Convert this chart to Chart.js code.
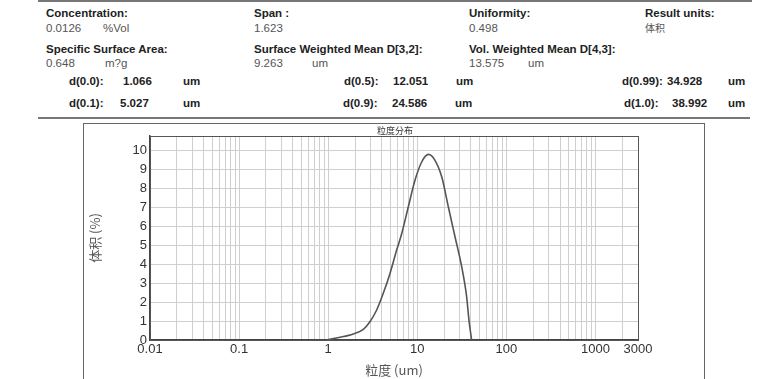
<!DOCTYPE html>
<html><head><meta charset="utf-8">
<script src="https://cdn.jsdelivr.net/npm/chart.js@4/dist/chart.umd.min.js"></script>
<style>
body{margin:0;background:#fff;width:784px;height:379px;overflow:hidden;position:relative;font-family:"Liberation Sans",Arial,sans-serif;}
.t{position:absolute;font-size:11.5px;white-space:nowrap;line-height:12px;}
.b{font-weight:bold;color:#222;}
.v{color:#555;}
.hl{position:absolute;height:0;border-top:2px solid #777;}
#box{position:absolute;left:83px;top:123px;width:622px;height:300px;border:1px solid #666;box-sizing:border-box;}
#c{position:absolute;left:83px;top:123px;}
</style></head><body>
<div class="hl" style="left:38px;top:0px;width:714px"></div>
<div class="t b" style="left:46px;top:7px">Concentration:</div>
<div class="t v" style="left:46px;top:22px">0.0126</div>
<div class="t v" style="left:103px;top:22px">%Vol</div>
<div class="t b" style="left:254px;top:7px">Span :</div>
<div class="t v" style="left:254px;top:22px">1.623</div>
<div class="t b" style="left:469px;top:7px">Uniformity:</div>
<div class="t v" style="left:469px;top:22px">0.498</div>
<div class="t b" style="left:645px;top:7px">Result units:</div>
<div class="t v" style="left:645px;top:22px;font-family:'Noto Sans CJK SC';font-size:10px">体积</div>
<div class="t b" style="left:46px;top:43px">Specific Surface Area:</div>
<div class="t v" style="left:46px;top:57px">0.648</div>
<div class="t v" style="left:105px;top:57px">m?g</div>
<div class="t b" style="left:254px;top:43px">Surface Weighted Mean D[3,2]:</div>
<div class="t v" style="left:254px;top:57px">9.263</div>
<div class="t v" style="left:312px;top:57px">um</div>
<div class="t b" style="left:469px;top:43px">Vol. Weighted Mean D[4,3]:</div>
<div class="t v" style="left:469px;top:57px">13.575</div>
<div class="t v" style="left:528px;top:57px">um</div>
<div class="t b" style="left:69px;top:75px">d(0.0):</div>
<div class="t b" style="left:123px;top:75px">1.066</div>
<div class="t b" style="left:183px;top:75px">um</div>
<div class="t b" style="left:69px;top:97px">d(0.1):</div>
<div class="t b" style="left:120px;top:97px">5.027</div>
<div class="t b" style="left:183px;top:97px">um</div>
<div class="t b" style="left:344px;top:75px">d(0.5):</div>
<div class="t b" style="left:393px;top:75px">12.051</div>
<div class="t b" style="left:456px;top:75px">um</div>
<div class="t b" style="left:343px;top:97px">d(0.9):</div>
<div class="t b" style="left:392px;top:97px">24.586</div>
<div class="t b" style="left:455px;top:97px">um</div>
<div class="t b" style="left:622px;top:75px">d(0.99):</div>
<div class="t b" style="left:667px;top:75px">34.928</div>
<div class="t b" style="left:728px;top:75px">um</div>
<div class="t b" style="left:624px;top:97px">d(1.0):</div>
<div class="t b" style="left:672px;top:97px">38.992</div>
<div class="t b" style="left:728px;top:97px">um</div>
<div class="hl" style="left:38px;top:117px;width:712px"></div>
<div id="box"></div>
<canvas id="c" width="622" height="256"></canvas>
<script>
// particle size (um) and volume (%)
const sizes = [0.96, 1.36, 1.91, 2.48, 2.94, 3.5, 4.15, 4.94, 5.87, 6.69, 7.93, 9.42, 11.2, 13.3, 15.8, 18.8, 22.3, 26.5, 31.5, 35.8, 38.0, 40.7];
const volume = [0, 0.14, 0.32, 0.56, 0.96, 1.58, 2.46, 3.51, 4.74, 5.61, 7.02, 8.42, 9.38, 9.78, 9.47, 8.6, 7.02, 5.44, 3.86, 2.28, 1.05, 0];
const xTickLabels = [0.01, 0.1, 1, 10, 100, 1000, 3000];
const yTickLabels = [0,1,2,3,4,5,6,7,8,9,10];
const chartTitle = '粒度分布';
const xTitle = '粒度 (um)';
const yTitle = '体积 (%)';

const gridVals = [];
for (let e = -2; e <= 3; e++) for (let m = 1; m <= 9; m++) { const v = +(m * Math.pow(10, e)).toPrecision(3); if (v <= 3000) gridVals.push(v); }
if (!gridVals.includes(3000)) gridVals.push(3000);

const pts = sizes.map((s, i) => ({x: s, y: volume[i]}));

const frame = {
  id: 'frame',
  afterDraw(chart) {
    const {ctx, chartArea: a} = chart;
    ctx.save();
    ctx.strokeStyle = '#555'; ctx.lineWidth = 1;
    ctx.strokeRect(a.left + 0.5, a.top + 0.5, a.right - a.left, a.bottom - a.top);
    ctx.fillStyle = '#333';
    ctx.font = '9px "Noto Sans CJK SC"';
    ctx.textAlign = 'center'; ctx.textBaseline = 'middle';
    ctx.fillText(chartTitle, 312, 8);
    ctx.fillStyle = '#555';
    ctx.font = '13px "Noto Sans CJK SC"';
    ctx.fillText(xTitle, 311, 247);
    ctx.translate(12, 115); ctx.rotate(-Math.PI / 2);
    ctx.fillText(yTitle, 0, 0);
    ctx.restore();
  }
};

new Chart(document.getElementById('c'), {
  type: 'scatter',
  data: { datasets: [{ data: pts, showLine: true, borderColor: '#555', borderWidth: 1.6, pointRadius: 0, cubicInterpolationMode: 'monotone', fill: false }] },
  options: {
    responsive: false, animation: false, devicePixelRatio: 1,
    layout: { padding: { left: 0, right: 67, top: 13, bottom: 0 } },
    plugins: { legend: { display: false }, tooltip: { enabled: false } },
    scales: {
      x: {
        type: 'logarithmic', min: 0.01, max: 3000,
        afterBuildTicks: s => { s.ticks = gridVals.map(v => ({value: v})); },
        afterFit: s => { s.height = 39; },
        ticks: { autoSkip: false, maxRotation: 0, padding: 2, color: '#333', font: { family: 'Liberation Sans', size: 13 },
          callback: v => xTickLabels.includes(+(+v).toPrecision(3)) ? String(+(+v).toPrecision(3)) : '' },
        grid: { color: '#cfcfcf', lineWidth: 1, drawTicks: false },
        border: { color: '#444', width: 1.5 }
      },
      y: {
        min: 0, max: 10.75,
        afterBuildTicks: s => { s.ticks = yTickLabels.map(v => ({value: v})); },
        afterFit: s => { s.width = 67; },
        ticks: { padding: 3, color: '#333', font: { family: 'Liberation Sans', size: 13 }, callback: v => String(v) },
        grid: { color: '#cfcfcf', lineWidth: 1, drawTicks: false },
        border: { color: '#444', width: 1.5 }
      }
    }
  },
  plugins: [frame]
});
</script>
</body></html>
